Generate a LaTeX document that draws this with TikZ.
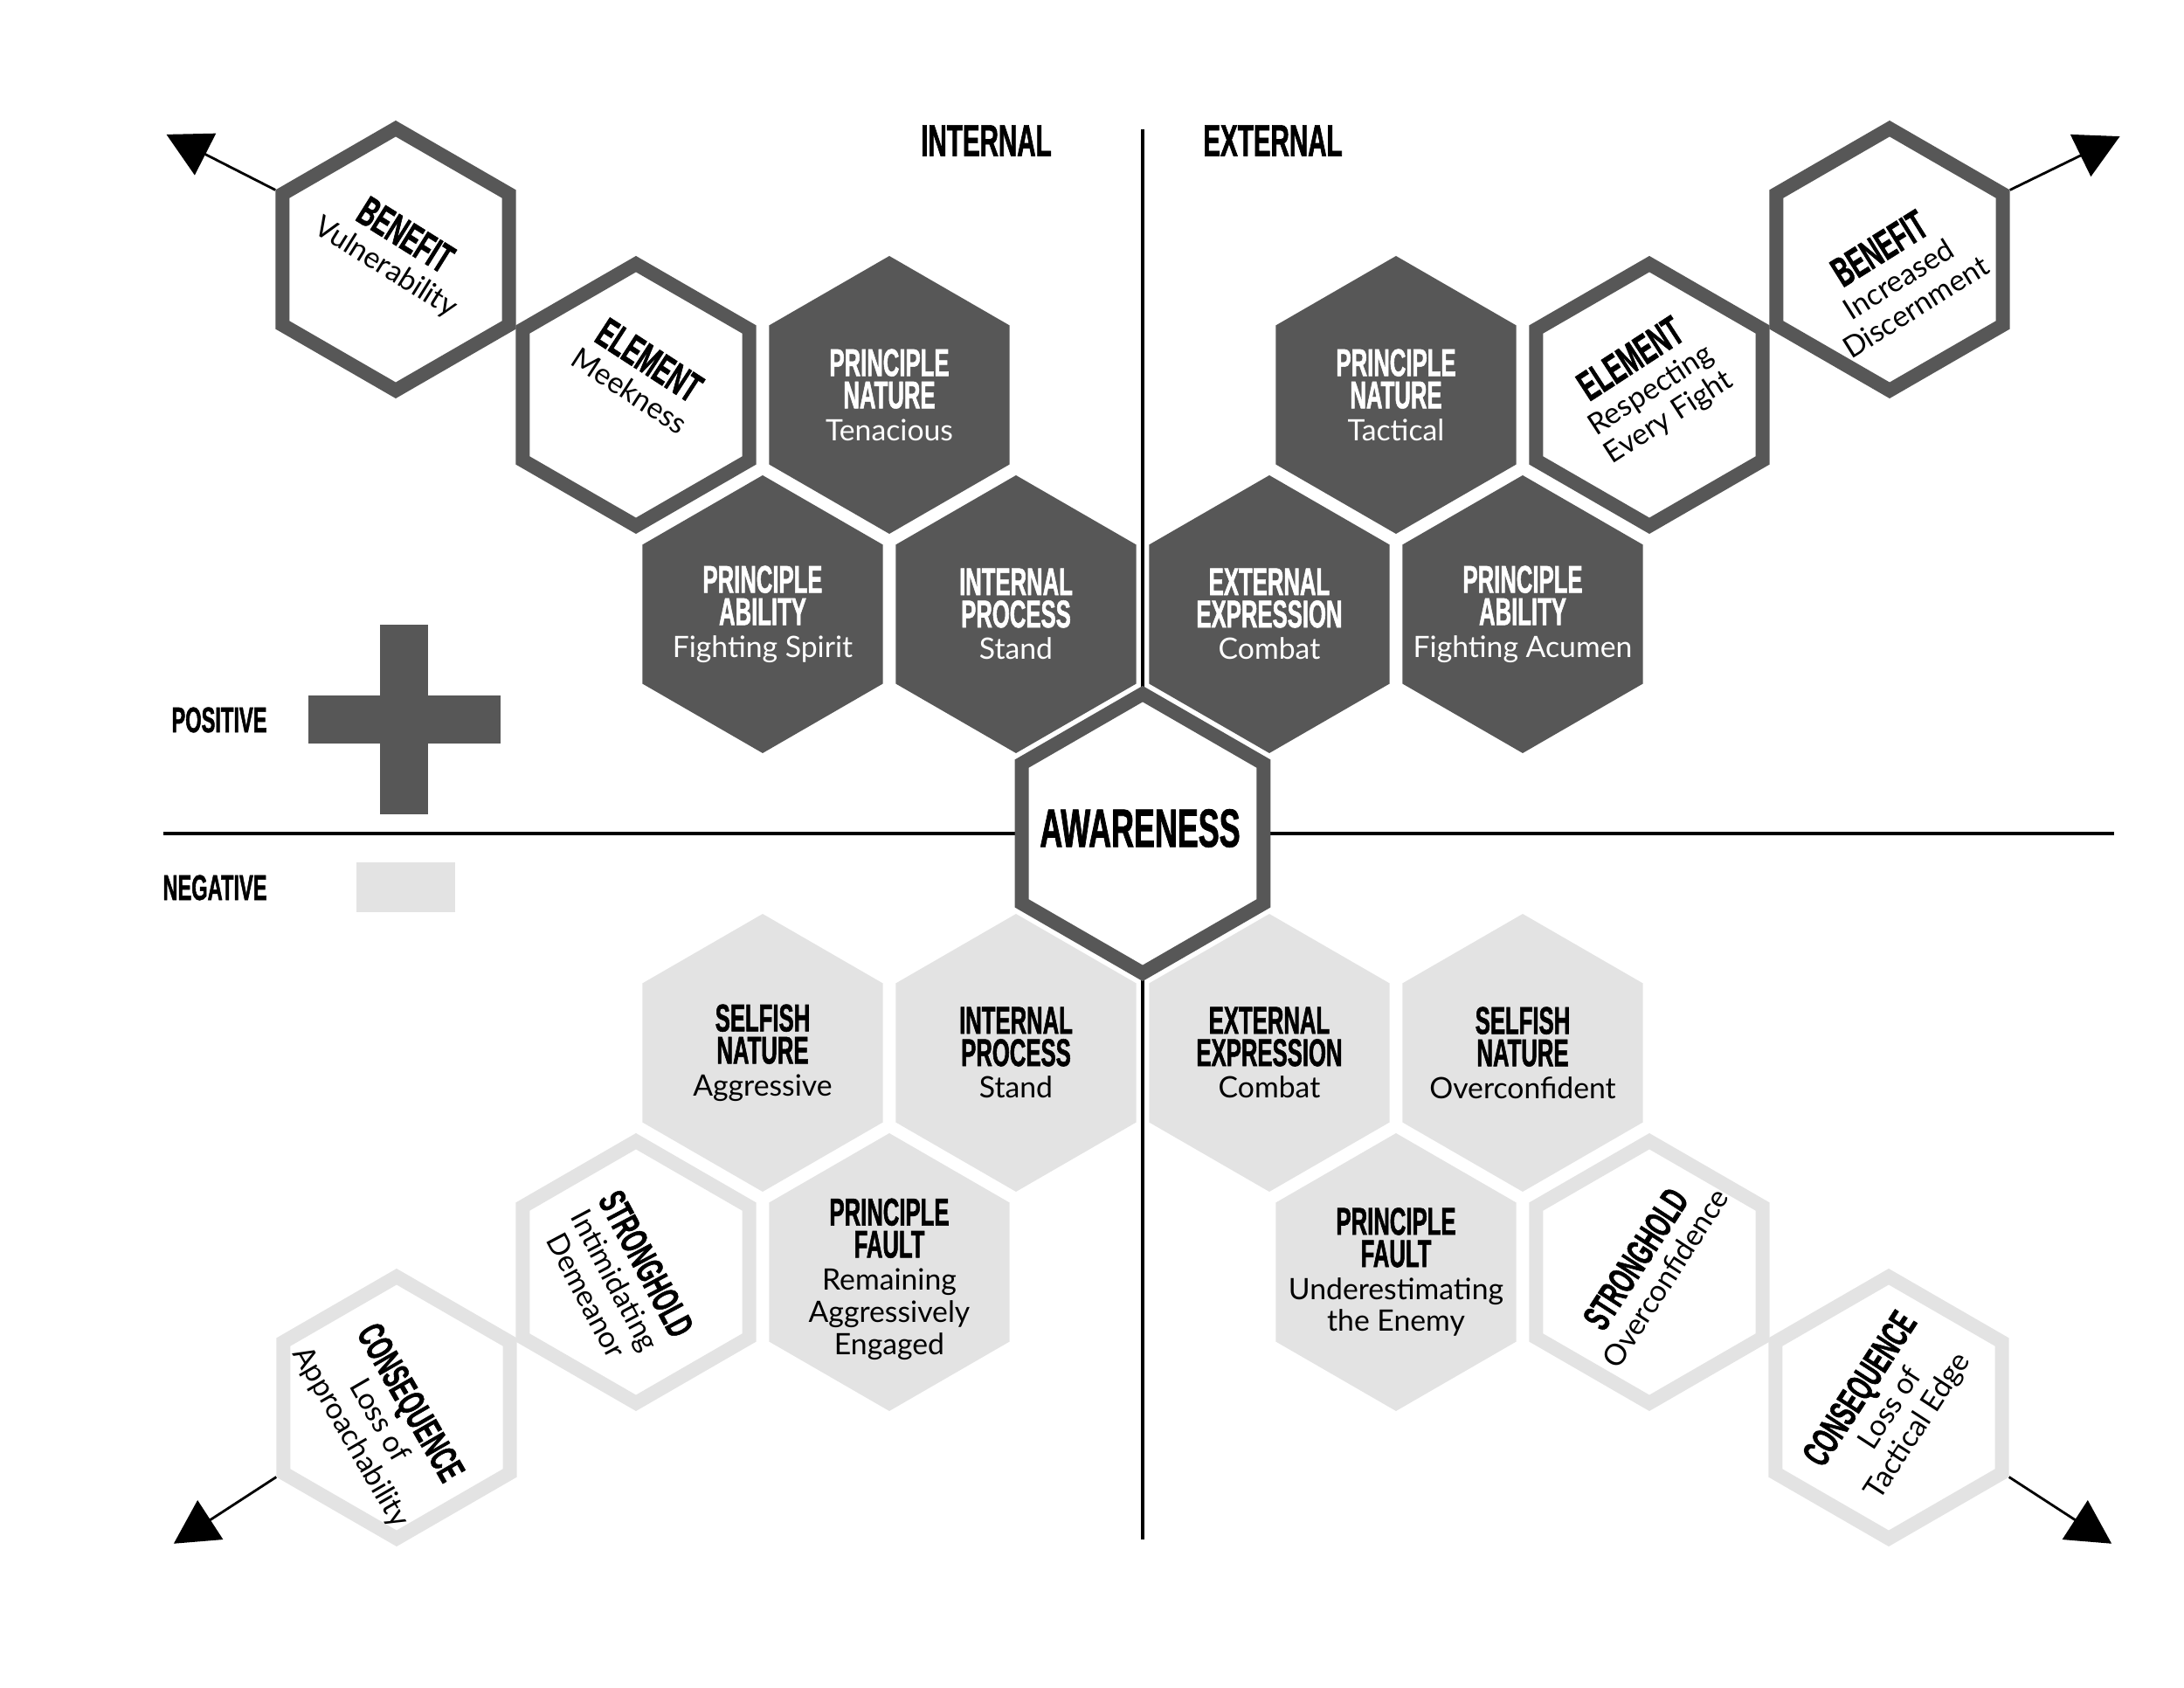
\documentclass[tikz,border=0pt]{standalone}
\usepackage{fontspec}
\setmainfont{Lato}
\newfontfamily\condfont{Liberation Sans}[FakeStretch=0.58, FakeBold=1.2]
\usetikzlibrary{shapes.geometric,arrows.meta,calc}
\definecolor{hexdark}{HTML}{575757}
\definecolor{hexlight}{HTML}{E3E3E3}
\newcommand{\hd}[1]{{\condfont\bfseries\fontsize{12.6pt}{10.5pt}\selectfont #1}}
\newcommand{\hdbig}[1]{{\condfont\bfseries\fontsize{13.6pt}{11pt}\selectfont #1}}
\newcommand{\hdmid}[1]{{\condfont\bfseries\fontsize{12.5pt}{11pt}\selectfont #1}}

\tikzset{
    hexbase/.style={regular polygon, regular polygon sides=6, regular polygon rotate=30, inner sep=0pt},
    darkhex/.style={hexbase, fill=hexdark, minimum size=3.18cm},
    lighthex/.style={hexbase, fill=hexlight, minimum size=3.18cm},
    ringhex/.style={hexbase, fill=white, line width=1.6mm, minimum size=2.996cm},
    darkring/.style={ringhex, draw=hexdark},
    lightring/.style={ringhex, draw=hexlight},
    ondark/.style={text=white, align=center, font=\fontsize{9.6pt}{10.5pt}\selectfont},
    onlight/.style={text=black, align=center, font=\fontsize{9.6pt}{10.5pt}\selectfont},
    tilted/.style={text=black, align=center, font=\fontsize{9.6pt}{10.6pt}\selectfont},
    header/.style={font=\condfont\bfseries\fontsize{14.5pt}{14.5pt}\selectfont},
    legendlabel/.style={font=\condfont\bfseries\fontsize{11.6pt}{11.6pt}\selectfont},
    axis/.style={line width=1.2pt},
    outarrow/.style={-{Triangle[length=0.5cm, width=0.53cm]}, line width=0.8pt}
}

\begin{document}
\begin{tikzpicture}
    \useasboundingbox (-13.08,-9.78) rectangle (11.92,9.54);
    % quadrant axes
    \coordinate (axisN) at (0,8.06);
    \coordinate (axisS) at (0,-8.08);
    \coordinate (axisW) at (-11.21,0);
    \coordinate (axisE) at (11.12,0);
    \draw[axis] (axisN) -- (axisS);
    \draw[axis] (axisW) -- (axisE);
    \node[header] (intLabel) at (-1.79,7.93) {INTERNAL};
    \node[header] (extLabel) at (1.49,7.93) {EXTERNAL};
    % legend
    \node[legendlabel] (posLabel) at (-10.57,1.3) {POSITIVE};
    \node[legendlabel] (negLabel) at (-10.62,-0.62) {NEGATIVE};
    \fill[hexdark] (-9.55,1.025) rectangle (-7.35,1.575);
    \fill[hexdark] (-8.725,0.215) rectangle (-8.175,2.385);
    \fill[hexlight] (-9.0,-0.33) rectangle (-7.87,-0.90);
    % positive side
    \node[darkhex] (pnT) at (-2.9,5.02) {};
    \node[darkhex] (pnA) at (2.9,5.02) {};
    \node[darkhex] (paS) at (-4.35,2.51) {};
    \node[darkhex] (ipP) at (-1.45,2.51) {};
    \node[darkhex] (eeP) at (1.45,2.51) {};
    \node[darkhex] (paA) at (4.35,2.51) {};
    \node[ondark] (pnTtext) at (pnT) {\hd{PRINCIPLE}\\\hd{NATURE}\\Tenacious};
    \node[ondark] (pnAtext) at (pnA) {\hd{PRINCIPLE}\\\hd{NATURE}\\Tactical};
    \node[ondark] (paStext) at (paS) {\hd{PRINCIPLE}\\\hd{ABILITY}\\Fighting Spirit};
    \node[ondark] (ipPtext) at (ipP) {\hd{INTERNAL}\\\hd{PROCESS}\\Stand};
    \node[ondark] (eePtext) at (eeP) {\hd{EXTERNAL}\\\hd{EXPRESSION}\\Combat};
    \node[ondark] (paAtext) at (paA) {\hd{PRINCIPLE}\\\hd{ABILITY}\\Fighting Acumen};
    \node[darkring] (elM) at (-5.8,5.02) {};
    \node[darkring] (benV) at (-8.55,6.57) {};
    \node[darkring] (elR) at (5.8,5.02) {};
    \node[darkring] (benD) at (8.55,6.57) {};
    \node[tilted, rotate=-32] (benVtext) at ($(benV)+(0,0.1)$) {\hdbig{BENEFIT}\\Vulnerability};
    \node[tilted, rotate=-33] (elMtext) at ($(elM)+(0.05,0.24)$) {\hdbig{ELEMENT}\\Meekness};
    \node[tilted, rotate=32] (benDtext) at ($(benD)+(0.08,-0.19)$) {\hdbig{BENEFIT}\\Increased\\Discernment};
    \node[tilted, rotate=33] (elRtext) at ($(elR)+(0,0.08)$) {\hdbig{ELEMENT}\\Respecting\\Every Fight};
    % centre
    \node[darkring, line width=1.6mm, minimum size=3.196cm] (aware) at (0,0) {};
    \node[font=\condfont\bfseries\fontsize{17.6pt}{17.6pt}\selectfont] (awareText) at (-0.03,0.06) {AWARENESS};
    % negative side
    \node[lighthex] (snA) at (-4.35,-2.51) {};
    \node[lighthex] (ipN) at (-1.45,-2.51) {};
    \node[lighthex] (eeN) at (1.45,-2.51) {};
    \node[lighthex] (snO) at (4.35,-2.51) {};
    \node[lighthex] (pfR) at (-2.9,-5.02) {};
    \node[lighthex] (pfU) at (2.9,-5.02) {};
    \node[onlight] (snAtext) at (snA) {\hd{SELFISH}\\\hd{NATURE}\\Aggressive};
    \node[onlight] (ipNtext) at (ipN) {\hd{INTERNAL}\\\hd{PROCESS}\\Stand};
    \node[onlight] (eeNtext) at (eeN) {\hd{EXTERNAL}\\\hd{EXPRESSION}\\Combat};
    \node[onlight] (snOtext) at (snO) {\hd{SELFISH}\\\hd{NATURE}\\Overconfident};
    \node[onlight] (pfRtext) at ($(pfR)+(0,-0.08)$) {\hd{PRINCIPLE}\\\hd{FAULT}\\Remaining\\Aggressively\\Engaged};
    \node[onlight] (pfUtext) at (pfU) {\hd{PRINCIPLE}\\\hd{FAULT}\\Underestimating\\the Enemy};
    \node[lightring] (shI) at (-5.8,-5.02) {};
    \node[lightring] (conA) at (-8.54,-6.57) {};
    \node[lightring] (shO) at (5.8,-5.02) {};
    \node[lightring] (conT) at (8.54,-6.57) {};
    \node[tilted, rotate=-62] (shItext) at ($(shI)+(-0.21,-0.08)$) {\hdmid{STRONGHOLD}\\Intimidating\\Demeanor};
    \node[tilted, rotate=-60] (conAtext) at ($(conA)+(-0.18,-0.14)$) {\hdmid{CONSEQUENCE}\\Loss of\\Approachability};
    \node[tilted, rotate=57] (shOtext) at ($(shO)+(0,0.05)$) {\hdmid{STRONGHOLD}\\Overconfidence};
    \node[tilted, rotate=57] (conTtext) at (conT) {\hdmid{CONSEQUENCE}\\Loss of\\Tactical Edge};
    % arrows leaving the outer hexagons
    \coordinate (tipNW) at ($(benV.150)+(153:1.40)$);
    \coordinate (tipNE) at ($(benD.30)+(26:1.40)$);
    \coordinate (tipSW) at ($(conA.210)+(213:1.40)$);
    \coordinate (tipSE) at ($(conT.330)+(327:1.40)$);
    \draw[outarrow] (benV.150) -- (tipNW);
    \draw[outarrow] (benD.30) -- (tipNE);
    \draw[outarrow] (conA.210) -- (tipSW);
    \draw[outarrow] (conT.330) -- (tipSE);
\end{tikzpicture}
\end{document}
